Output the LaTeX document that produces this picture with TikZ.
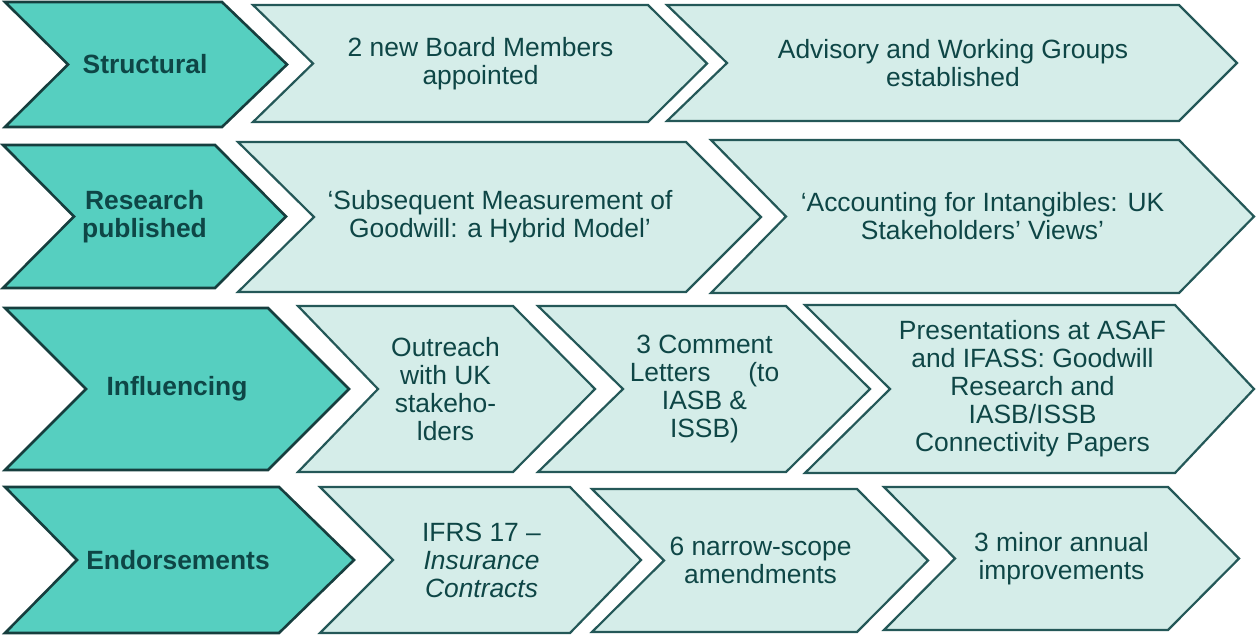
\documentclass[tikz,border=0pt]{standalone}
\usepackage{fontspec}
\setmainfont{Liberation Sans}
\definecolor{darkfill}{RGB}{86,207,192}
\definecolor{lightfill}{RGB}{213,237,233}
\definecolor{edgedark}{RGB}{22,62,62}
\definecolor{edgelight}{RGB}{36,88,88}
\definecolor{txt}{RGB}{14,70,70}
\tikzset{
  headchev/.style={fill=darkfill,draw=edgedark,line width=1.3pt,line join=miter},
  itemchev/.style={fill=lightfill,draw=edgelight,line width=1.1pt,line join=miter},
  headlbl/.style={align=center,text=txt,font=\fontsize{13.2}{14}\selectfont\bfseries,inner sep=0pt},
  itemlbl/.style={align=center,text=txt,font=\fontsize{13.2}{14}\selectfont,inner sep=0pt}
}
% #1 name, #2 shape style, #3 unused, #4 left, #5 notch, #6 top-right, #7 tip, #8 top y, #9 bottom y
\newcommand{\chevshape}[9]{%
  \pgfmathsetmacro\chym{(#8+#9)/2}%
  \pgfmathsetmacro\chxm{(#5+#6)/2}%
  \draw[#2] (#4,#8) -- (#6,#8) -- (#7,\chym) -- (#6,#9) -- (#4,#9) -- (#5,\chym) -- cycle;
  \coordinate (#1) at (\chxm,\chym);
}
\begin{document}
\begin{tikzpicture}[x=0.5pt,y=-0.5pt]
\useasboundingbox (0,0) rectangle (1256,636);
% Row 1
\chevshape{a1}{headchev}{}{5}{68}{222}{287}{2}{127}
\chevshape{b1}{itemchev}{}{253}{313}{648}{707}{5}{122}
\chevshape{c1}{itemchev}{}{667}{727}{1179}{1237}{5}{121}
\node[headlbl] (la1) at (a1) {Structural};
\node[itemlbl] (lb1) at (b1) {2 new Board Members\\appointed};
\node[itemlbl] (lc1) at (c1) {Advisory and Working Groups\\established};
% Row 2
\chevshape{a2}{headchev}{}{3}{74}{215}{286}{145}{288}
\chevshape{b2}{itemchev}{}{238}{314}{686}{761}{142}{292}
\chevshape{c2}{itemchev}{}{711}{786}{1179}{1254}{140}{293}
\node[headlbl] (la2) at (a2) {Research\\published};
\node[itemlbl] (lb2) at (b2) {‘Subsequent Measurement of\\Goodwill: a Hybrid Model’};
\node[itemlbl] (lc2) at (c2) {‘Accounting for Intangibles: UK\\Stakeholders’ Views’};
% Row 3
\chevshape{a3}{headchev}{}{5}{86}{268}{349}{308}{470}
\chevshape{b3}{itemchev}{}{298}{378}{513}{595}{306}{472}
\chevshape{c3}{itemchev}{}{538}{623}{786}{870}{306}{472}
\chevshape{d3}{itemchev}{}{805}{890}{1175}{1254}{305}{473}
\node[headlbl] (la3) at (a3) {Influencing};
\node[itemlbl] (lb3) at (b3) {Outreach\\with UK\\stakeho-\\lders};
\node[itemlbl] (lc3) at (c3) {3 Comment\\Letters\hspace{19pt}(to\\IASB \&\\ISSB)};
\node[itemlbl] (ld3) at (d3) {Presentations at ASAF\\and IFASS: Goodwill\\Research and\\IASB/ISSB\\Connectivity Papers};
% Row 4
\chevshape{a4}{headchev}{}{5}{77}{279}{354}{487}{633}
\chevshape{b4}{itemchev}{}{320}{393}{570}{641}{487}{633}
\chevshape{c4}{itemchev}{}{592}{664}{857}{928}{489}{632}
\chevshape{d4}{itemchev}{}{884}{955}{1168}{1239}{487}{630}
\node[headlbl] (la4) at (a4) {Endorsements};
\node[itemlbl] (lb4) at (b4) {IFRS 17 –\\\textit{Insurance}\\\textit{Contracts}};
\node[itemlbl] (lc4) at (c4) {6 narrow-scope\\amendments};
\node[itemlbl] (ld4) at (d4) {3 minor annual\\improvements};
\end{tikzpicture}
\end{document}
